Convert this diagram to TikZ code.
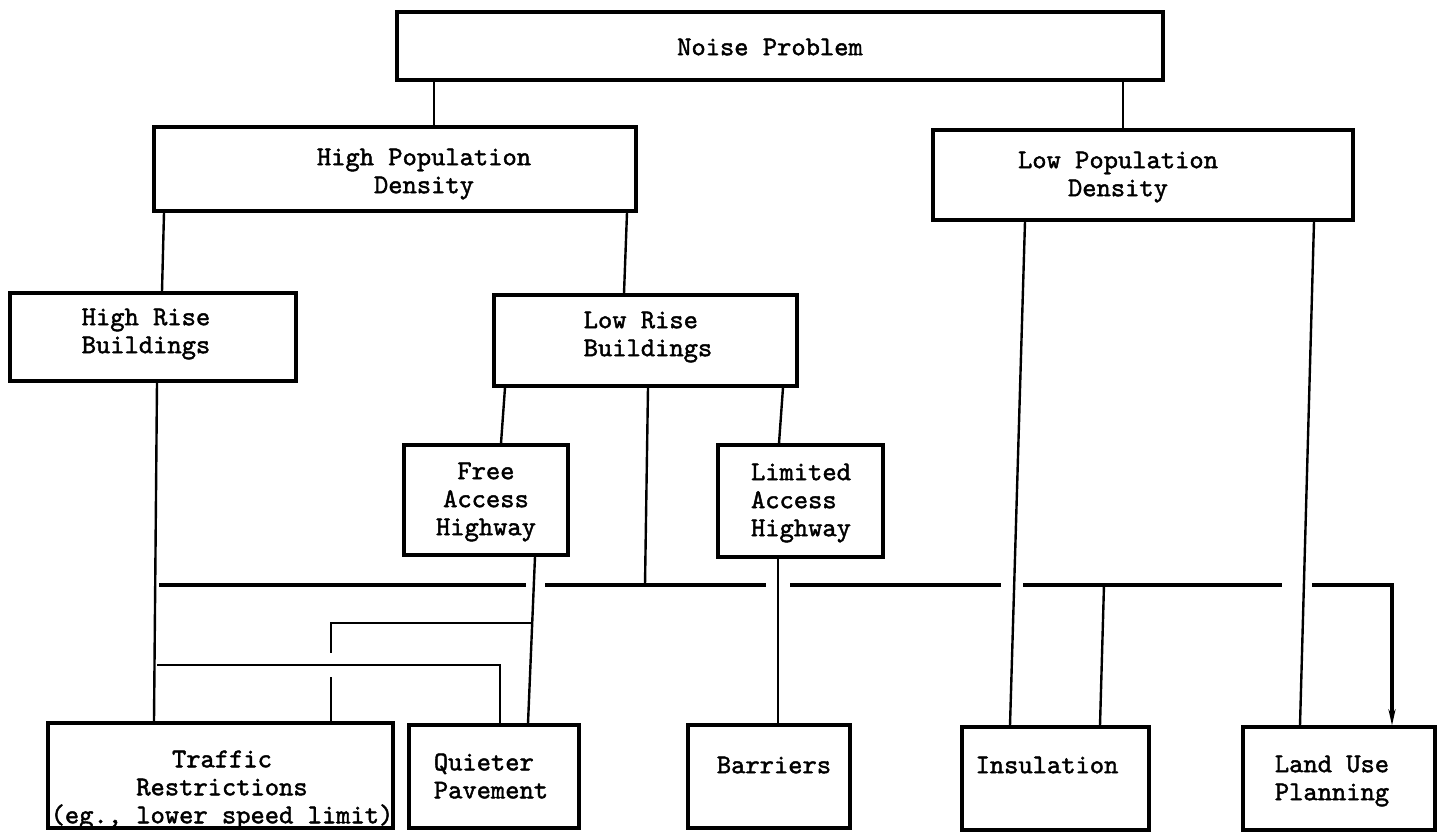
\documentclass[tikz,border=0pt]{standalone}
\usepackage{fontspec}
\newfontfamily\typew{lmmono10-regular}[Extension=.otf, FakeBold=1.6]
\usepackage{tikz}
\usetikzlibrary{arrows.meta}

\begin{document}
\begin{tikzpicture}[
    x=0.5pt, y=-0.5pt,
    box/.style={draw, line width=1.6pt, inner sep=0pt},
    lbl/.style={font=\typew\fontsize{13.6}{14}\selectfont, inner sep=0pt},
    link/.style={line width=1.2pt},
    bus/.style={line width=2.2pt}
]
    \useasboundingbox (0,0) rectangle (1441,835);

    % boxes
    \node[box, minimum width=383pt,   minimum height=34pt]   (noise) at (780,46)      {};
    \node[box, minimum width=241pt,   minimum height=42pt]   (hpd)   at (395,169)     {};
    \node[box, minimum width=210pt,   minimum height=45pt]   (lpd)   at (1143,175)    {};
    \node[box, minimum width=143pt,   minimum height=44pt]   (hrb)   at (153,337)     {};
    \node[box, minimum width=151.5pt, minimum height=45.5pt] (lrb)   at (645.5,340.5) {};
    \node[box, minimum width=82pt,    minimum height=55pt]   (fah)   at (486,500)     {};
    \node[box, minimum width=82.5pt,  minimum height=56pt]   (lah)   at (800.5,501)   {};
    \node[box, minimum width=172.5pt, minimum height=52.5pt] (trf)   at (220.5,775.5) {};
    \node[box, minimum width=85pt,    minimum height=51.5pt] (qpv)   at (494,776.5)   {};
    \node[box, minimum width=81pt,    minimum height=51.5pt] (bar)   at (769,776.5)   {};
    \node[box, minimum width=93.5pt,  minimum height=51.5pt] (ins)   at (1055.5,778.5){};
    \node[box, minimum width=96pt,    minimum height=51.5pt] (lup)   at (1339,778.5)  {};

    % texts
    \node[lbl]               (noise-t) at (770,47)  {Noise Problem};
    \node[lbl, align=center] (hpd-t)   at (424,174) {High Population\\Density};
    \node[lbl, align=center] (lpd-t)   at (1118,177) {Low Population\\Density};
    \node[lbl, align=left]   (hrb-t)   at (146,334) {High Rise\\Buildings};
    \node[lbl, align=left]   (lrb-t)   at (648,337) {Low Rise\\Buildings};
    \node[lbl, align=center] (fah-t)   at (486,502) {Free\\Access\\Highway};
    \node[lbl, align=left]   (lah-t)   at (801,503) {Limited\\Access\\Highway};
    \node[lbl, align=center] (trf-t)   at (222,790) {Traffic\\Restrictions\\(eg., lower speed limit)};
    \node[lbl, align=left]   (qpv-t)   at (491,776) {Quieter\\Pavement};
    \node[lbl]               (bar-t)   at (774,765) {Barriers};
    \node[lbl]               (ins-t)   at (1047,765) {Insulation};
    \node[lbl, align=left]   (lup-t)   at (1332,781) {Land Use\\Planning};

    % tree links
    \draw[link] (noise.south -| 434,0)  -- (hpd.north -| 434,0);
    \draw[link] (noise.south -| 1123,0) -- (lpd.north -| 1123,0);
    \draw[link] (hpd.south -| 164,0)    -- (hrb.north -| 162,0);
    \draw[link] (hpd.south -| 627,0)    -- (lrb.north -| 624,0);
    \draw[link] (lpd.south -| 1025,0)   -- (ins.north -| 1010,0);
    \draw[link] (lpd.south -| 1314,0)   -- (lup.north -| 1300,0);
    \draw[link] (hrb.south -| 157,0)    -- (trf.north -| 154,0);
    \draw[link] (lrb.south -| 505,0)    -- (fah.north -| 501,0);
    \draw[link] (lrb.south -| 783,0)    -- (lah.north -| 779,0);
    \draw[link] (fah.south -| 535,0)    -- (qpv.north -| 528,0);
    \draw[link] (lah.south -| 778,0)    -- (bar.north -| 778,0);

    % common bus
    \coordinate (hub)  at (645,585);
    \coordinate (busL) at (159,585);
    \coordinate (busR) at (1392,585);
    \draw[link] (lrb.south -| 648,0) -- (hub);
    \draw[bus] (busL) -- (526,585)  (545,585) -- (766,585)
               (790,585) -- (1001,585)  (1023,585) -- (1282,585);
    \draw[bus, -{Stealth[length=8pt,width=3.5pt]}] (1312,585) -- (busR) -- (lup.north -| busR);
    \draw[link] (1104,585) -- (ins.north -| 1100,0);

    % cross links
    \draw[link] (532,623) -- (331,623) -- (331,653);
    \draw[link] (331,677) -- (trf.north -| 331,0);
    \draw[link] (157,665) -- (500,665) -- (qpv.north -| 500,0);
\end{tikzpicture}
\end{document}
